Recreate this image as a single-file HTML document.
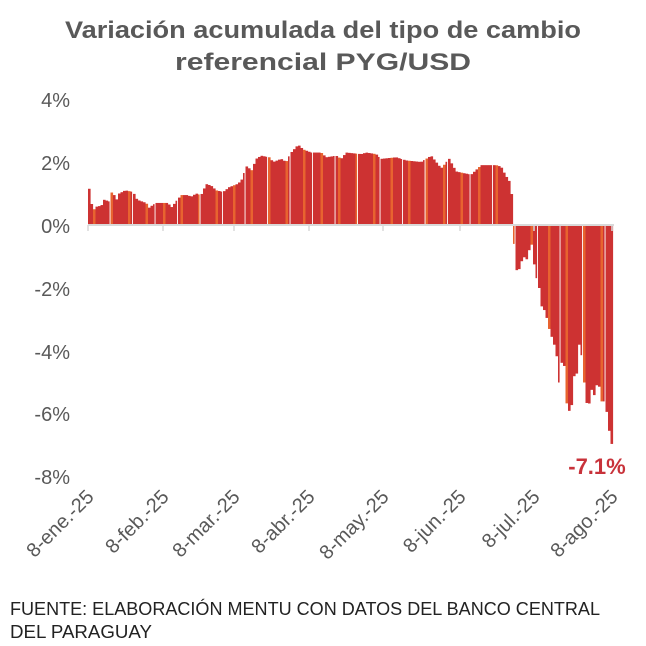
<!DOCTYPE html>
<html><head><meta charset="utf-8"><style>
html,body{margin:0;padding:0;background:#fff;}
svg{display:block;font-family:"Liberation Sans",Arial,sans-serif;}
</style></head><body>
<svg id="s" width="646" height="646" viewBox="0 0 646 646" xmlns="http://www.w3.org/2000/svg">
<text x="323" y="38" text-anchor="middle" font-size="24" font-weight="bold" fill="#595959" textLength="516" lengthAdjust="spacingAndGlyphs">Variación acumulada del tipo de cambio</text>
<text x="323" y="70" text-anchor="middle" font-size="24" font-weight="bold" fill="#595959" textLength="296" lengthAdjust="spacingAndGlyphs">referencial PYG/USD</text>
<g font-size="20" fill="#595959" text-anchor="end">
<text x="70" y="107">4%</text>
<text x="70" y="170">2%</text>
<text x="70" y="233">0%</text>
<text x="70" y="296">-2%</text>
<text x="70" y="359">-4%</text>
<text x="70" y="421">-6%</text>
<text x="70" y="484">-8%</text>
</g>
<g id="bars"></g>
<line x1="88" y1="225" x2="614" y2="225" stroke="#d9d9d9" stroke-width="2"/>
<g stroke="#d9d9d9" stroke-width="1.5" id="ticks"></g>
<g font-size="20" fill="#595959" text-anchor="end" id="xl"></g>
<text x="597" y="474" text-anchor="middle" font-size="22" font-weight="bold" fill="#c8323a">-7.1%</text>
<text x="10" y="615" font-size="18" fill="#222" textLength="590" lengthAdjust="spacingAndGlyphs">FUENTE: ELABORACIÓN MENTU CON DATOS DEL BANCO CENTRAL</text>
<text x="10" y="638" font-size="18" fill="#222" textLength="142" lengthAdjust="spacingAndGlyphs">DEL PARAGUAY</text>
</svg>
<script>
var NS="http://www.w3.org/2000/svg";
var kp=[[88,1.15],[90,0.7],[93,0.5],[96,0.6],[100,0.6],[103,0.8],[108,0.75],[112,1.2],[114,0.7],[118,1.0],[124,1.1],[132,1.05],[136,0.8],[145,0.7],[148,0.55],[150,0.6],[155,0.7],[167,0.7],[170,0.55],[175,0.75],[180,0.95],[186,0.95],[190,0.9],[195,1.0],[200,0.95],[205,1.3],[210,1.25],[215,1.1],[222,1.05],[228,1.2],[236,1.3],[240,1.4],[246,1.9],[250,1.7],[255,2.1],[260,2.2],[268,2.15],[272,2.0],[280,2.1],[285,2.0],[290,2.3],[297,2.55],[302,2.4],[310,2.3],[320,2.3],[325,2.15],[335,2.2],[340,2.1],[345,2.3],[360,2.25],[365,2.3],[375,2.25],[380,2.1],[395,2.15],[405,2.05],[420,2.0],[430,2.2],[440,1.8],[448,2.1],[455,1.7],[462,1.65],[470,1.6],[480,1.9],[495,1.9],[500,1.85],[504,1.6],[508,1.4],[511,0.9],[513,-0.6],[516,-1.6],[519,-1.3],[522,-1.0],[526,-1.1],[530,-0.5],[534,-1.5],[538,-2.0],[541,-2.7],[544,-2.7],[547,-3.2],[550,-3.5],[555,-4.0],[558,-5.0],[562,-4.0],[566,-5.9],[570,-5.9],[573,-4.8],[576,-4.7],[578,-3.8],[581,-4.2],[584,-5.4],[587,-5.9],[590,-5.2],[593,-5.4],[597,-4.9],[600,-5.6],[603,-5.6],[606,-6.0],[609,-6.8],[612,-7.1]];
function val(x){for(var i=1;i<kp.length;i++){if(x<=kp[i][0]){var a=kp[i-1],b=kp[i];var t=(x-a[0])/(b[0]-a[0]);return a[1]+t*(b[1]-a[1]);}}return kp[kp.length-1][1];}
var g=document.getElementById("bars");var y0=225,s=31.5;
var n=0;
for(var x=88;x<613;x+=2.5){n++;var v=val(x);var h=v*s;var r=document.createElementNS(NS,"rect");
var w=(n%9==0)?1.6:2.6;
r.setAttribute("x",x);r.setAttribute("width",w);
if(h>=0){r.setAttribute("y",y0-h);r.setAttribute("height",h);}else{r.setAttribute("y",y0);r.setAttribute("height",-h);}
r.setAttribute("fill",(n%7==3)?"#e8632f":"#cd3232");g.appendChild(r);}
var xs=[88,163,234,309,383,460,534,612],lb=["8-ene.-25","8-feb.-25","8-mar.-25","8-abr.-25","8-may.-25","8-jun.-25","8-jul.-25","8-ago.-25"];
var tk=document.getElementById("ticks"),xl=document.getElementById("xl");
xs.forEach(function(x,i){var l=document.createElementNS(NS,"line");l.setAttribute("x1",x);l.setAttribute("x2",x);l.setAttribute("y1",225);l.setAttribute("y2",231);tk.appendChild(l);
var t=document.createElementNS(NS,"text");t.setAttribute("transform","translate("+(x+7)+",498) rotate(-45)");t.textContent=lb[i];xl.appendChild(t);});
</script>
</body></html>
